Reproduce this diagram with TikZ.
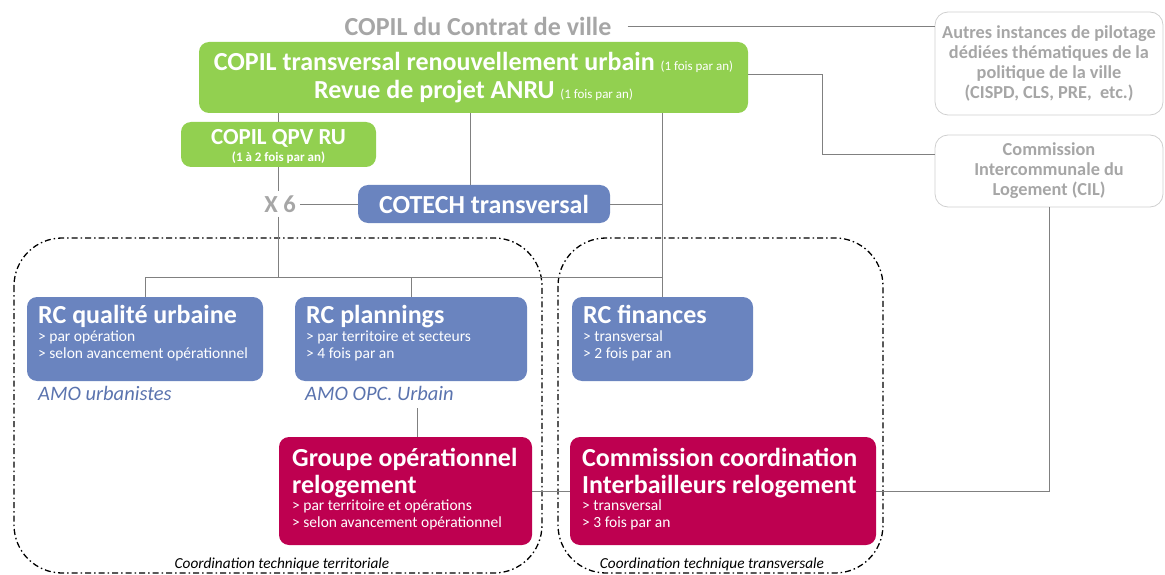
\documentclass[tikz,border=0pt]{standalone}
\usepackage{fontspec}
\setmainfont{Carlito}
\definecolor{vgreen}{HTML}{92D050}
\definecolor{vblue}{HTML}{6A84BF}
\definecolor{vred}{HTML}{BE0050}
\definecolor{lgray}{HTML}{A6A6A6}
\definecolor{bgray}{HTML}{CFCFCF}
\definecolor{lnk}{HTML}{808080}
\definecolor{amoblue}{HTML}{5A73AE}
\begin{document}
\begin{tikzpicture}[x=1pt,y=-1pt,
  box/.style={rounded corners=10pt, inner sep=0pt},
  gbox/.style={box, draw=bgray, line width=0.8pt, rounded corners=13pt},
  link/.style={draw=lnk, line width=0.9pt},
  coordbox/.style={draw=black, line width=1.3pt, dash pattern=on 6pt off 3pt on 1.5pt off 3pt, rounded corners=48pt},
  ttl/.style={font=\fontsize{26}{27}\selectfont\bfseries, text=white, inner sep=0pt, anchor=base west, align=left},
  sub/.style={font=\fontsize{15.5}{17}\selectfont, text=white, inner sep=0pt, anchor=base west, align=left},
  amo/.style={font=\fontsize{20.5}{22}\selectfont\itshape, text=amoblue, inner sep=0pt, anchor=base west},
  gtxt/.style={font=\fontsize{18.3}{20}\selectfont\bfseries, text=lgray, align=center, inner sep=0pt},
  clab/.style={font=\fontsize{15.3}{16}\selectfont\itshape, text=black, inner sep=0pt, anchor=base}
]
\useasboundingbox (0,0) rectangle (1165,575);

% dash-dot coordination frames
\draw[coordbox] (14,238) rectangle (542,573);
\draw[coordbox] (558,238) rectangle (883,573);
\node[clab] (labterr) at (282,568) {Coordination technique territoriale};
\node[clab] (labtrans) at (712,568) {Coordination technique transversale};

% top title
\node[font=\fontsize{26}{28}\selectfont\bfseries, text=lgray, inner sep=0pt] (contrat) at (478,26) {COPIL du Contrat de ville};

% right gray boxes
\node[gbox, minimum width=228pt, minimum height=103pt] (autres) at (1049,63.5) {};
\node[gtxt] (autrest) at (autres.center) {Autres instances de pilotage\\dédiées thématiques de la\\politique de la ville\\(CISPD, CLS, PRE,\ \ etc.)};
\node[gbox, minimum width=228pt, minimum height=72pt] (cil) at (1049,171) {};
\node[gtxt] (cilt) at (cil.center) {Commission\\Intercommunale du\\Logement (CIL)};

% green boxes
\node[box, fill=vgreen, minimum width=549pt, minimum height=71pt] (copil) at (473.5,77.5) {};
\node[font=\fontsize{26}{28}\selectfont\bfseries, text=white, align=center, inner sep=0pt] (copilt) at (copil.center)
  {COPIL transversal renouvellement urbain {\fontsize{13}{14}\selectfont\mdseries (1 fois par an)}\\
   Revue de projet ANRU {\fontsize{13}{14}\selectfont\mdseries (1 fois par an)}};
\node[box, fill=vgreen, minimum width=195pt, minimum height=45pt] (qpv) at (278.5,144.5) {};
\node[font=\fontsize{23}{24}\selectfont\bfseries, text=white, inner sep=0pt] (qpvt) at (278.5,138) {COPIL QPV RU};
\node[font=\fontsize{13}{14}\selectfont\bfseries, text=white, inner sep=0pt] (qpvs) at (278.5,158) {(1 à 2 fois par an)};

% X 6 and COTECH
\node[font=\fontsize{24.5}{26}\selectfont\bfseries, text=lgray, inner sep=4pt] (x6) at (280,204) {X 6};
\node[box, fill=vblue, minimum width=252pt, minimum height=38pt] (cotech) at (484,204) {};
\node[font=\fontsize{26}{28}\selectfont\bfseries, text=white, inner sep=0pt] (cotecht) at (cotech.center) {COTECH transversal};

% RC boxes
\node[box, fill=vblue, minimum width=236pt, minimum height=84pt] (rcq) at (145,339) {};
\node[ttl] (rcqt) at (38,323) {RC qualité urbaine};
\node[sub] (rcqs) at (38,358) {> par opération\\> selon avancement opérationnel};
\node[amo] (amourb) at (38,400) {AMO urbanistes};

\node[box, fill=vblue, minimum width=232pt, minimum height=84pt] (rcp) at (411,339) {};
\node[ttl] (rcpt) at (306,323) {RC plannings};
\node[sub] (rcps) at (306,358) {> par territoire et secteurs\\> 4 fois par an};
\node[amo] (amoopc) at (305,400) {AMO OPC. Urbain};

\node[box, fill=vblue, minimum width=181pt, minimum height=84pt] (rcf) at (662.5,339) {};
\node[ttl] (rcft) at (583,323) {RC finances};
\node[sub] (rcfs) at (583,358) {> transversal\\> 2 fois par an};

% red boxes
\node[box, fill=vred, minimum width=253pt, minimum height=108pt] (grp) at (405.5,491) {};
\node[ttl] (grpt) at (292,493) {Groupe opérationnel\\relogement};
\node[sub] (grps) at (292,527) {> par territoire et opérations\\> selon avancement opérationnel};

\node[box, fill=vred, minimum width=306pt, minimum height=108pt] (com) at (723,491) {};
\node[ttl] (comt) at (582,493) {Commission coordination\\Interbailleurs relogement};
\node[sub] (coms) at (582,527) {> transversal\\> 3 fois par an};

% connectors
\coordinate (hb) at (0,277);
\draw[link] ([xshift=16pt]contrat.east) -- (contrat.east -| autres.west);
\draw[link] (copil.east |- 0,74) -- (822,74) |- (cil.west |- 0,154);
\draw[link] (qpv.north) -- (qpv.north |- copil.south);
\draw[link] (qpv.south) -- (qpv.south |- x6.north);
\draw[link] (qpv.south |- x6.south) -- (qpv.south |- hb);
\draw[link] (x6.east) -- (x6.east -| cotech.west);
\draw[link] ([xshift=-14pt]cotech.north) -- ([xshift=-14pt]cotech.north |- copil.south);
\draw[link] (cotech.east) -- (cotech.east -| rcf.north);
\draw[link] (rcf.north) -- (rcf.north |- copil.south);
\draw[link] (rcq.north) -- (rcq.north |- hb) -- (rcf.north |- hb);
\draw[link] (rcp.north) -- (rcp.north |- hb);
\draw[link] ([xshift=12pt]grp.north |- 0,408) -- ([xshift=12pt]grp.north);
\draw[link] (grp.east) -- (com.west);
\draw[link] (com.east) -- (com.east -| cil.south) -- (cil.south);
\end{tikzpicture}
\end{document}
